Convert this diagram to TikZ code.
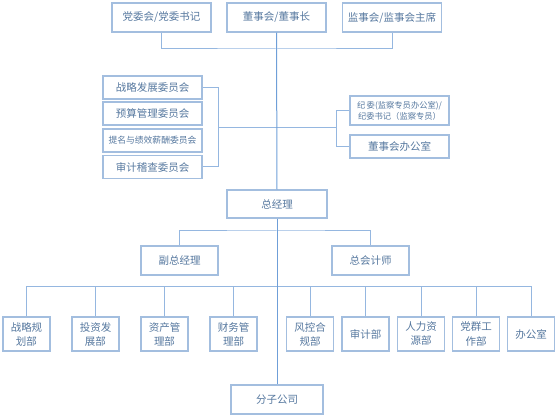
\documentclass[tikz,border=0pt]{standalone}
\usepackage{fontspec}
\setmainfont{Noto Sans CJK SC}
\usepackage{tikz}
\definecolor{boxblue}{HTML}{A3BEDF}
\definecolor{lineblue}{HTML}{95B7E0}
\definecolor{mainblue}{HTML}{6F9FD8}
\definecolor{textblue}{HTML}{56789F}

\begin{document}
\begin{tikzpicture}[x=1pt, y=-1pt,
    orgbox/.style={draw=boxblue, line width=1.2pt, fill=white, text=textblue, font=\fontsize{10.5}{14}\selectfont, align=center, inner sep=0pt},
    link/.style={draw=lineblue, line width=1pt},
    mainlink/.style={draw=mainblue, line width=1pt}]
        \useasboundingbox (0,0) rectangle (558,417);

        % Top level boards
        \node[orgbox, minimum width=99pt, minimum height=29pt] (dwh) at (161.5,17.5) {党委会/党委书记};
        \node[orgbox, minimum width=99pt, minimum height=29pt] (dsh) at (276.5,17.5) {董事会/董事长};
        \node[orgbox, minimum width=99pt, minimum height=29pt] (jsh) at (392,17.5) {监事会/监事会主席};
        \coordinate (topbus) at (276.5,49);

        % Committees
        \node[orgbox, minimum width=99pt, minimum height=23pt] (zlw) at (152.5,87.5) {战略发展委员会};
        \node[orgbox, minimum width=99pt, minimum height=23pt] (ysw) at (152.5,113.5) {预算管理委员会};
        \node[orgbox, minimum width=99pt, minimum height=23pt, font=\fontsize{8.8}{11}\selectfont] (tmw) at (152.5,140.5) {提名与绩效薪酬委员会};
        \node[orgbox, minimum width=99pt, minimum height=23pt] (sjw) at (152.5,167) {审计稽查委员会};
        \coordinate (lbr) at (218,128);
        \coordinate (lmid) at (276.5,128);

        % Discipline and board office
        \node[orgbox, minimum width=99pt, minimum height=29pt, font=\fontsize{8.3}{11}\selectfont] (jwh) at (399.5,110.5) {纪\,委(监察专员办公室)/\\纪委书记（监察专员）};
        \node[orgbox, minimum width=99pt, minimum height=23pt] (dbg) at (399.5,146.5) {董事会办公室};
        \coordinate (rbr) at (336,128);

        % Management
        \node[orgbox, minimum width=100pt, minimum height=28pt] (zjl) at (277,204) {总经理};
        \node[orgbox, minimum width=77pt, minimum height=29pt] (fzj) at (179.5,260.5) {副总经理};
        \node[orgbox, minimum width=77pt, minimum height=29pt] (zkj) at (370.5,260.5) {总会计师};
        \coordinate (midbus) at (277,231);
        \coordinate (dbus) at (277,287);

        % Departments
        \foreach \name/\px/\txt in {zlb/26.5/战略规\\划部, tzb/95.5/投资发\\展部, zcb/164.5/资产管\\理部, cwb/233.5/财务管\\理部, fkb/310/风控合\\规部, sjb/365.5/审计部, rlb/421/人力资\\源部, dqb/476/党群工\\作部, bgs/531/办公室}
          \node[orgbox, minimum width=47pt, minimum height=34pt] (\name) at (\px,334) {\txt};

        % Branches
        \node[orgbox, minimum width=92pt, minimum height=29pt] (fgs) at (277,399.5) {分子公司};

        % Connectors
        \draw[link] (dwh.south) |- (topbus) -| (jsh.south);
        \draw[link] (zlw.east) -| (lbr);
        \draw[link] (sjw.east) -| (lbr);
        \draw[link] (lbr) -- (lmid);
        \draw[link] (jwh.west) -| (rbr);
        \draw[link] (dbg.west) -| (rbr);
        \draw[link] (rbr) -- (lmid);
        \draw[link] (fzj.north) |- (midbus) -| (zkj.north);
        \foreach \name in {zlb,tzb,zcb,cwb,fkb,sjb,rlb,dqb,bgs}
          \draw[link] (\name.north) |- (dbus);
        \draw[mainlink] (dsh.south) -- (zjl.north);
        \draw[mainlink] (zjl.south) -- (fgs.north);
      \end{tikzpicture}
\end{document}
